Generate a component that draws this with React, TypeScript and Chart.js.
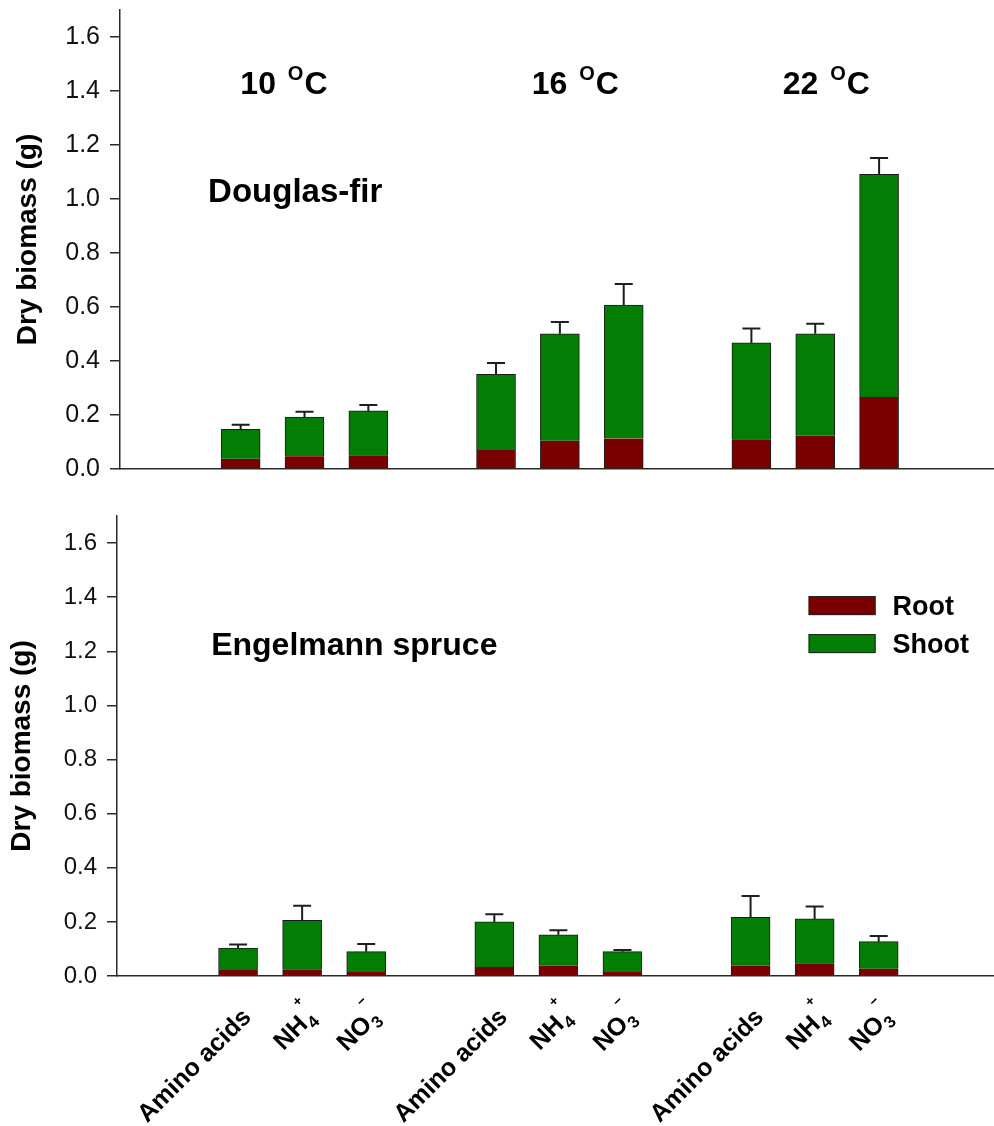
import React, { useEffect, useRef } from 'react';
import { Chart, registerables } from 'chart.js';

Chart.register(...registerables);

const FONT = '"Liberation Sans", Arial, Helvetica, sans-serif';

// ---- data ----
const temperatures = ['10', '16', '22'];
const nSources = ['Amino acids', 'NH4+', 'NO3-'];
const seriesNames = ['Root', 'Shoot'];

const douglasRoot = [0.038, 0.047, 0.051, 0.07, 0.105, 0.113, 0.11, 0.123, 0.267];
const douglasShoot = [0.109, 0.145, 0.164, 0.281, 0.396, 0.494, 0.357, 0.378, 0.824];
const douglasSE = [0.017, 0.02, 0.022, 0.042, 0.043, 0.078, 0.053, 0.037, 0.061];

const spruceRoot = [0.022, 0.025, 0.015, 0.033, 0.038, 0.015, 0.038, 0.047, 0.027];
const spruceShoot = [0.081, 0.181, 0.075, 0.167, 0.114, 0.075, 0.179, 0.164, 0.1];
const spruceSE = [0.013, 0.054, 0.028, 0.028, 0.017, 0.006, 0.079, 0.046, 0.021];

const yMax = 1.7;
const yTicks = [0, 0.2, 0.4, 0.6, 0.8, 1.0, 1.2, 1.4, 1.6];

// ---- style / layout ----
const ROOT_COLOR = '#7a0000';
const SHOOT_COLOR = '#037d03';
const AXIS_COLOR = '#2a2a2a';
const X_MIN = -1.89;
const X_MAX = 11.8;

const slot = (i: number) => Math.floor(i / nSources.length) * (nSources.length + 1) + (i % nSources.length);

const setFont = (ctx: CanvasRenderingContext2D, size: number, bold: boolean) => {
  ctx.font = `${bold ? 'bold ' : ''}${size}px ${FONT}`;
};

type PanelCfg = {
  root: number[];
  shoot: number[];
  se: number[];
  species: string;
  speciesAt: { x: number; y: number };
  speciesSize: number;
  showTemps: boolean;
  showLegend: boolean;
  showXLabels: boolean;
  yAxisWidth: number;
  padTop: number;
  xAxisHeight: number;
  tickSize: number;
  titlePad: number;
};

function drawSourceLabel(ctx: CanvasRenderingContext2D, label: string, ax: number, ay: number) {
  const m = label.match(/^(.*?)(\d)([+-])$/);
  const main = m ? m[1] : label;
  const mainSize = 25;
  const base = mainSize * 0.36;
  ctx.save();
  ctx.translate(ax, ay);
  ctx.rotate(-Math.PI / 4);
  ctx.textAlign = 'left';
  ctx.textBaseline = 'alphabetic';
  ctx.fillStyle = '#000';
  setFont(ctx, mainSize, true);
  const wm = ctx.measureText(main).width;
  let ws = 0;
  if (m) {
    setFont(ctx, 17, true);
    ws = ctx.measureText(m[2]).width + 1;
  }
  const start = -(wm + ws);
  setFont(ctx, mainSize, true);
  ctx.fillText(main, start, base);
  if (m) {
    setFont(ctx, 17, true);
    ctx.fillText(m[2], start + wm + 1, base + 6);
    setFont(ctx, 14, true);
    ctx.fillText(m[3] === '-' ? '\u2212' : m[3], start + wm + 5, base - 21);
  }
  ctx.restore();
}

function makeConfig(cfg: PanelCfg): any {
  const tempLabelX = [-0.005, 4.56, 8.49];
  const tempLabelY = 1.39;
  const legendAt = { x: 8.906, y: 1.404 };

  const decorations = {
    id: 'decorations',
    afterDatasetsDraw(chart: any) {
      const { ctx, scales } = chart;
      const x = scales.x;
      const y = scales.y;
      ctx.save();
      ctx.strokeStyle = '#1e1e1e';
      ctx.lineWidth = 2;
      cfg.se.forEach((e, i) => {
        const total = cfg.root[i] + cfg.shoot[i];
        const px = x.getPixelForValue(slot(i));
        const y0 = y.getPixelForValue(total);
        const y1 = y.getPixelForValue(total + e);
        ctx.beginPath();
        ctx.moveTo(px, y0);
        ctx.lineTo(px, y1);
        ctx.moveTo(px - 9, y1);
        ctx.lineTo(px + 9, y1);
        ctx.stroke();
      });
      ctx.restore();
    },
    afterDraw(chart: any) {
      const { ctx, scales, chartArea } = chart;
      const x = scales.x;
      const y = scales.y;
      ctx.save();
      ctx.fillStyle = '#000';
      ctx.textBaseline = 'alphabetic';
      ctx.textAlign = 'left';
      setFont(ctx, cfg.speciesSize, true);
      ctx.fillText(cfg.species, x.getPixelForValue(cfg.speciesAt.x), y.getPixelForValue(cfg.speciesAt.y));
      if (cfg.showTemps) {
        temperatures.forEach((t, g) => {
          let px = x.getPixelForValue(tempLabelX[g]);
          const py = y.getPixelForValue(tempLabelY);
          setFont(ctx, 32, true);
          const s1 = t + ' ';
          ctx.fillText(s1, px, py);
          px += ctx.measureText(s1).width + 3;
          setFont(ctx, 20, true);
          ctx.fillText('O', px, py - 14);
          px += ctx.measureText('O').width + 1;
          setFont(ctx, 32, true);
          ctx.fillText('C', px, py);
        });
      }
      if (cfg.showLegend) {
        const lx = x.getPixelForValue(legendAt.x);
        const ly = y.getPixelForValue(legendAt.y);
        chart.data.datasets.forEach((ds: any, k: number) => {
          const top = ly + k * 38;
          ctx.fillStyle = ds.backgroundColor;
          ctx.fillRect(lx, top, 67, 19);
          ctx.strokeStyle = '#222';
          ctx.lineWidth = 1;
          ctx.strokeRect(lx + 0.5, top + 0.5, 66, 18);
          ctx.fillStyle = '#000';
          setFont(ctx, 27, true);
          ctx.fillText(ds.label, lx + 84, top + 19);
        });
      }
      if (cfg.showXLabels) {
        cfg.root.forEach((_, i) => {
          const cx = x.getPixelForValue(slot(i));
          drawSourceLabel(ctx, nSources[i % nSources.length], cx + 8, chartArea.bottom + 36);
        });
      }
      ctx.restore();
    },
  };

  const seg = (vals: number[]) => vals.map((v, i) => ({ x: slot(i), y: v }));

  return {
    type: 'bar',
    data: {
      datasets: [
        {
          label: seriesNames[0],
          data: seg(cfg.root),
          backgroundColor: ROOT_COLOR,
          borderColor: '#1c1c1c',
          borderWidth: { left: 1, right: 1, top: 0, bottom: 0 },
          borderSkipped: false,
          barThickness: 39,
        },
        {
          label: seriesNames[1],
          data: seg(cfg.shoot),
          backgroundColor: SHOOT_COLOR,
          borderColor: '#1c1c1c',
          borderWidth: { left: 1, right: 1, top: 1, bottom: 0 },
          borderSkipped: false,
          barThickness: 39,
        },
      ],
    },
    options: {
      responsive: false,
      animation: false,
      events: [],
      layout: { padding: { top: cfg.padTop, left: 0, right: 0, bottom: 0 } },
      plugins: { legend: { display: false }, tooltip: { enabled: false } },
      scales: {
        x: {
          type: 'linear',
          stacked: true,
          min: X_MIN,
          max: X_MAX,
          offset: false,
          bounds: 'data',
          ticks: { display: false },
          grid: { display: false },
          border: { display: true, color: AXIS_COLOR, width: 1.5 },
          afterFit: (s: any) => {
            s.height = cfg.xAxisHeight;
            s.paddingLeft = 0;
            s.paddingRight = 0;
          },
        },
        y: {
          stacked: true,
          min: 0,
          max: yMax,
          ticks: {
            color: '#111',
            padding: 10,
            font: { size: cfg.tickSize, family: FONT },
            callback: (v: any) => Number(v).toFixed(1),
          },
          afterBuildTicks: (s: any) => {
            s.ticks = yTicks.map((v) => ({ value: v }));
          },
          grid: {
            display: true,
            drawOnChartArea: false,
            drawTicks: true,
            tickLength: 10,
            color: AXIS_COLOR,
            lineWidth: 1.5,
          },
          border: { display: true, color: AXIS_COLOR, width: 1.5 },
          title: {
            display: true,
            text: 'Dry biomass (g)',
            color: '#000',
            font: { size: 28, weight: 'bold', family: FONT },
            padding: { top: cfg.titlePad, bottom: 0 },
          },
          afterFit: (s: any) => {
            s.width = cfg.yAxisWidth;
            s.paddingTop = 0;
            s.paddingBottom = 0;
          },
        },
      },
    },
    plugins: [decorations],
  };
}

function Panel({ cfg, width, height }: { cfg: PanelCfg; width: number; height: number }) {
  const ref = useRef<HTMLCanvasElement | null>(null);
  useEffect(() => {
    if (!ref.current) return;
    const chart = new Chart(ref.current, makeConfig(cfg));
    return () => chart.destroy();
  }, [cfg]);
  return <canvas ref={ref} width={width} height={height} style={{ display: 'block', width, height }} />;
}

const topCfg: PanelCfg = {
  root: douglasRoot,
  shoot: douglasShoot,
  se: douglasSE,
  species: 'Douglas-fir',
  speciesAt: { x: -0.51, y: 0.988 },
  speciesSize: 33,
  showTemps: true,
  showLegend: false,
  showXLabels: false,
  yAxisWidth: 120,
  padTop: 10,
  xAxisHeight: 21,
  tickSize: 25,
  titlePad: 11,
};

const bottomCfg: PanelCfg = {
  root: spruceRoot,
  shoot: spruceShoot,
  se: spruceSE,
  species: 'Engelmann spruce',
  speciesAt: { x: -0.42, y: 1.185 },
  speciesSize: 32,
  showTemps: false,
  showLegend: true,
  showXLabels: true,
  yAxisWidth: 117,
  padTop: 26,
  xAxisHeight: 150,
  tickSize: 24,
  titlePad: 5,
};

export default function App() {
  Chart.defaults.font.family = FONT;
  return (
    <div style={{ position: 'absolute', left: 0, top: 0, width: 994, height: 1126, background: '#fff' }}>
      <Panel cfg={topCfg} width={994} height={490} />
      <Panel cfg={bottomCfg} width={994} height={636} />
    </div>
  );
}
